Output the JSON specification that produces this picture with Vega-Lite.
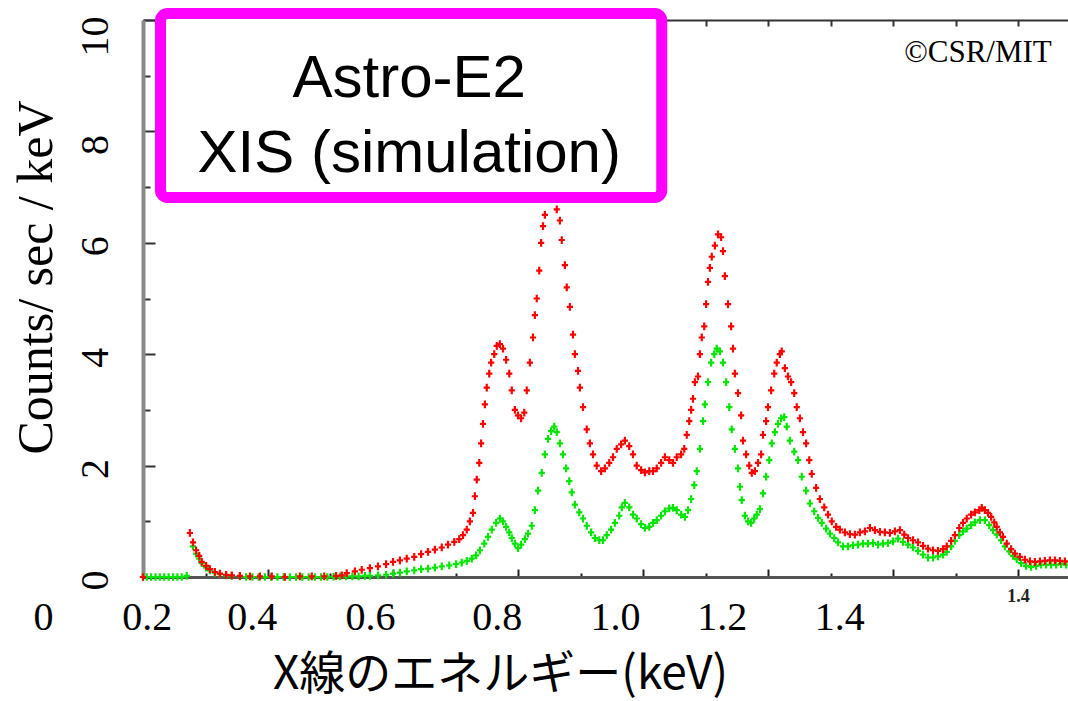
{
  "$schema": "https://vega.github.io/schema/vega-lite/v6.json",
  "width": 925,
  "height": 557,
  "autosize": {"type": "none"},
  "padding": {"left": 143, "top": 20, "right": 0, "bottom": 124},
  "background": "white",
  "config": {"view": {"stroke": null}, "axis": {"grid": false}},
  "datasets": {
    "spectrum": [
      {"s":"2","e":0.000,"c":0},{"s":"2","e":0.006,"c":0},{"s":"2","e":0.013,"c":0},{"s":"2","e":0.020,"c":0},{"s":"2","e":0.027,"c":0},{"s":"2","e":0.034,"c":0},{"s":"2","e":0.041,"c":0},{"s":"2","e":0.048,"c":0},{"s":"2","e":0.055,"c":0},{"s":"2","e":0.062,"c":0},{"s":"2","e":0.070,"c":0.02},
      {"s":"2","e":0.080,"c":0.55},{"s":"2","e":0.085,"c":0.42},{"s":"2","e":0.090,"c":0.33},{"s":"2","e":0.094,"c":0.25},{"s":"2","e":0.101,"c":0.17},{"s":"2","e":0.107,"c":0.12},{"s":"2","e":0.115,"c":0.08},{"s":"2","e":0.123,"c":0.05},{"s":"2","e":0.133,"c":0.03},{"s":"2","e":0.142,"c":0.02},{"s":"2","e":0.155,"c":0.01},
      {"s":"2","e":0.165,"c":0},{"s":"2","e":0.175,"c":0},{"s":"2","e":0.185,"c":0},{"s":"2","e":0.195,"c":0},{"s":"2","e":0.205,"c":0},{"s":"2","e":0.215,"c":0},{"s":"2","e":0.225,"c":0},{"s":"2","e":0.235,"c":0},{"s":"2","e":0.245,"c":0},{"s":"2","e":0.255,"c":0},{"s":"2","e":0.265,"c":0},{"s":"2","e":0.275,"c":0},{"s":"2","e":0.285,"c":0},{"s":"2","e":0.295,"c":0},{"s":"2","e":0.305,"c":0.005},{"s":"2","e":0.315,"c":0.01},{"s":"2","e":0.325,"c":0.01},{"s":"2","e":0.335,"c":0.01},{"s":"2","e":0.345,"c":0.01},{"s":"2","e":0.355,"c":0.02},
      {"s":"2","e":0.363,"c":0.02},{"s":"2","e":0.376,"c":0.03},{"s":"2","e":0.389,"c":0.04},{"s":"2","e":0.400,"c":0.06},{"s":"2","e":0.411,"c":0.08},{"s":"2","e":0.422,"c":0.10},{"s":"2","e":0.434,"c":0.12},{"s":"2","e":0.445,"c":0.14},{"s":"2","e":0.456,"c":0.15},{"s":"2","e":0.467,"c":0.17},{"s":"2","e":0.478,"c":0.19},{"s":"2","e":0.490,"c":0.21},{"s":"2","e":0.501,"c":0.23},{"s":"2","e":0.510,"c":0.26},{"s":"2","e":0.518,"c":0.29},{"s":"2","e":0.526,"c":0.33},{"s":"2","e":0.533,"c":0.39},{"s":"2","e":0.539,"c":0.48},{"s":"2","e":0.546,"c":0.60},{"s":"2","e":0.552,"c":0.72},{"s":"2","e":0.558,"c":0.85},{"s":"2","e":0.565,"c":0.97},{"s":"2","e":0.571,"c":1.05},{"s":"2","e":0.576,"c":1.00},{"s":"2","e":0.581,"c":0.90},{"s":"2","e":0.586,"c":0.80},{"s":"2","e":0.590,"c":0.70},{"s":"2","e":0.595,"c":0.60},{"s":"2","e":0.600,"c":0.52},{"s":"2","e":0.605,"c":0.58},{"s":"2","e":0.611,"c":0.68},{"s":"2","e":0.616,"c":0.78},{"s":"2","e":0.622,"c":0.92},{"s":"2","e":0.627,"c":1.20},{"s":"2","e":0.632,"c":1.55},{"s":"2","e":0.638,"c":1.87},{"s":"2","e":0.643,"c":2.20},{"s":"2","e":0.648,"c":2.48},{"s":"2","e":0.653,"c":2.62},{"s":"2","e":0.658,"c":2.70},{"s":"2","e":0.662,"c":2.60},{"s":"2","e":0.667,"c":2.40},{"s":"2","e":0.672,"c":2.20},{"s":"2","e":0.677,"c":1.95},{"s":"2","e":0.682,"c":1.72},{"s":"2","e":0.686,"c":1.52},{"s":"2","e":0.691,"c":1.30},{"s":"2","e":0.698,"c":1.16},{"s":"2","e":0.704,"c":1.05},{"s":"2","e":0.710,"c":0.92},{"s":"2","e":0.717,"c":0.80},{"s":"2","e":0.723,"c":0.70},{"s":"2","e":0.730,"c":0.66},{"s":"2","e":0.736,"c":0.66},{"s":"2","e":0.742,"c":0.75},{"s":"2","e":0.749,"c":0.85},{"s":"2","e":0.755,"c":0.97},{"s":"2","e":0.762,"c":1.10},{"s":"2","e":0.766,"c":1.25},{"s":"2","e":0.771,"c":1.33},{"s":"2","e":0.778,"c":1.25},{"s":"2","e":0.784,"c":1.12},{"s":"2","e":0.790,"c":1.05},{"s":"2","e":0.797,"c":0.95},{"s":"2","e":0.803,"c":0.88},{"s":"2","e":0.810,"c":0.90},{"s":"2","e":0.816,"c":0.97},{"s":"2","e":0.822,"c":1.02},{"s":"2","e":0.829,"c":1.10},{"s":"2","e":0.835,"c":1.18},{"s":"2","e":0.842,"c":1.23},{"s":"2","e":0.848,"c":1.24},{"s":"2","e":0.854,"c":1.20},{"s":"2","e":0.861,"c":1.12},{"s":"2","e":0.867,"c":1.08},{"s":"2","e":0.872,"c":1.20},{"s":"2","e":0.877,"c":1.40},{"s":"2","e":0.882,"c":1.65},{"s":"2","e":0.886,"c":1.90},{"s":"2","e":0.891,"c":2.30},{"s":"2","e":0.896,"c":2.80},{"s":"2","e":0.899,"c":3.10},{"s":"2","e":0.904,"c":3.50},{"s":"2","e":0.909,"c":3.85},{"s":"2","e":0.914,"c":4.00},{"s":"2","e":0.918,"c":4.10},{"s":"2","e":0.923,"c":4.05},{"s":"2","e":0.928,"c":3.85},{"s":"2","e":0.933,"c":3.50},{"s":"2","e":0.938,"c":3.05},{"s":"2","e":0.942,"c":2.65},{"s":"2","e":0.947,"c":2.30},{"s":"2","e":0.952,"c":1.95},{"s":"2","e":0.955,"c":1.62},{"s":"2","e":0.958,"c":1.38},{"s":"2","e":0.963,"c":1.10},{"s":"2","e":0.968,"c":1.00},{"s":"2","e":0.973,"c":0.97},{"s":"2","e":0.978,"c":1.05},{"s":"2","e":0.982,"c":1.12},{"s":"2","e":0.987,"c":1.22},{"s":"2","e":0.992,"c":1.50},{"s":"2","e":0.997,"c":1.80},{"s":"2","e":1.002,"c":2.10},{"s":"2","e":1.006,"c":2.40},{"s":"2","e":1.011,"c":2.60},{"s":"2","e":1.016,"c":2.75},{"s":"2","e":1.021,"c":2.85},{"s":"2","e":1.026,"c":2.87},{"s":"2","e":1.030,"c":2.70},{"s":"2","e":1.035,"c":2.45},{"s":"2","e":1.042,"c":2.25},{"s":"2","e":1.048,"c":2.10},{"s":"2","e":1.054,"c":1.80},{"s":"2","e":1.061,"c":1.55},{"s":"2","e":1.067,"c":1.32},{"s":"2","e":1.074,"c":1.18},{"s":"2","e":1.080,"c":1.06},{"s":"2","e":1.086,"c":0.97},{"s":"2","e":1.093,"c":0.87},{"s":"2","e":1.099,"c":0.78},{"s":"2","e":1.106,"c":0.70},{"s":"2","e":1.112,"c":0.62},{"s":"2","e":1.120,"c":0.55},{"s":"2","e":1.128,"c":0.55},{"s":"2","e":1.136,"c":0.57},{"s":"2","e":1.144,"c":0.58},{"s":"2","e":1.152,"c":0.60},{"s":"2","e":1.160,"c":0.60},{"s":"2","e":1.168,"c":0.61},{"s":"2","e":1.176,"c":0.58},{"s":"2","e":1.184,"c":0.60},{"s":"2","e":1.192,"c":0.61},{"s":"2","e":1.200,"c":0.64},{"s":"2","e":1.208,"c":0.69},{"s":"2","e":1.216,"c":0.63},{"s":"2","e":1.224,"c":0.58},{"s":"2","e":1.232,"c":0.53},{"s":"2","e":1.240,"c":0.47},{"s":"2","e":1.248,"c":0.40},{"s":"2","e":1.256,"c":0.35},{"s":"2","e":1.264,"c":0.35},{"s":"2","e":1.272,"c":0.37},{"s":"2","e":1.280,"c":0.40},{"s":"2","e":1.286,"c":0.45},{"s":"2","e":1.293,"c":0.55},{"s":"2","e":1.299,"c":0.65},{"s":"2","e":1.306,"c":0.75},{"s":"2","e":1.312,"c":0.82},{"s":"2","e":1.318,"c":0.87},{"s":"2","e":1.325,"c":0.93},{"s":"2","e":1.331,"c":0.98},{"s":"2","e":1.339,"c":1.02},{"s":"2","e":1.347,"c":1.02},{"s":"2","e":1.354,"c":0.93},{"s":"2","e":1.360,"c":0.84},{"s":"2","e":1.366,"c":0.76},{"s":"2","e":1.373,"c":0.66},{"s":"2","e":1.379,"c":0.55},{"s":"2","e":1.386,"c":0.46},{"s":"2","e":1.392,"c":0.38},{"s":"2","e":1.398,"c":0.32},{"s":"2","e":1.405,"c":0.25},{"s":"2","e":1.413,"c":0.20},{"s":"2","e":1.421,"c":0.18},{"s":"2","e":1.429,"c":0.20},{"s":"2","e":1.437,"c":0.22},{"s":"2","e":1.445,"c":0.22},{"s":"2","e":1.453,"c":0.22},{"s":"2","e":1.461,"c":0.22},{"s":"2","e":1.469,"c":0.23},{"s":"2","e":1.477,"c":0.22},
      {"s":"1","e":0.000,"c":0},{"s":"1","e":0.075,"c":0.79},{"s":"1","e":0.080,"c":0.62},{"s":"1","e":0.085,"c":0.48},{"s":"1","e":0.090,"c":0.38},{"s":"1","e":0.094,"c":0.27},{"s":"1","e":0.101,"c":0.20},{"s":"1","e":0.107,"c":0.14},{"s":"1","e":0.115,"c":0.09},{"s":"1","e":0.123,"c":0.06},{"s":"1","e":0.133,"c":0.04},{"s":"1","e":0.142,"c":0.03},{"s":"1","e":0.155,"c":0.02},{"s":"1","e":0.171,"c":0.01},{"s":"1","e":0.187,"c":0.01},{"s":"1","e":0.206,"c":0.01},{"s":"1","e":0.227,"c":0.00},{"s":"1","e":0.251,"c":0.01},{"s":"1","e":0.270,"c":0.01},{"s":"1","e":0.290,"c":0.01},{"s":"1","e":0.309,"c":0.02},{"s":"1","e":0.318,"c":0.03},{"s":"1","e":0.326,"c":0.07},{"s":"1","e":0.339,"c":0.10},{"s":"1","e":0.350,"c":0.13},{"s":"1","e":0.363,"c":0.16},{"s":"1","e":0.376,"c":0.19},{"s":"1","e":0.389,"c":0.23},{"s":"1","e":0.400,"c":0.27},{"s":"1","e":0.411,"c":0.30},{"s":"1","e":0.422,"c":0.33},{"s":"1","e":0.434,"c":0.36},{"s":"1","e":0.445,"c":0.41},{"s":"1","e":0.456,"c":0.45},{"s":"1","e":0.467,"c":0.49},{"s":"1","e":0.478,"c":0.53},{"s":"1","e":0.488,"c":0.58},{"s":"1","e":0.498,"c":0.63},{"s":"1","e":0.506,"c":0.68},{"s":"1","e":0.512,"c":0.75},{"s":"1","e":0.518,"c":0.85},{"s":"1","e":0.523,"c":1.00},{"s":"1","e":0.528,"c":1.15},{"s":"1","e":0.531,"c":1.45},{"s":"1","e":0.534,"c":1.75},{"s":"1","e":0.538,"c":2.05},{"s":"1","e":0.541,"c":2.40},{"s":"1","e":0.544,"c":2.75},{"s":"1","e":0.547,"c":3.10},{"s":"1","e":0.550,"c":3.40},{"s":"1","e":0.554,"c":3.65},{"s":"1","e":0.557,"c":3.85},{"s":"1","e":0.562,"c":4.00},{"s":"1","e":0.566,"c":4.15},{"s":"1","e":0.571,"c":4.18},{"s":"1","e":0.576,"c":4.10},{"s":"1","e":0.581,"c":3.90},{"s":"1","e":0.586,"c":3.65},{"s":"1","e":0.590,"c":3.35},{"s":"1","e":0.595,"c":3.00},{"s":"1","e":0.600,"c":2.90},{"s":"1","e":0.605,"c":2.85},{"s":"1","e":0.610,"c":2.95},{"s":"1","e":0.614,"c":3.35},{"s":"1","e":0.619,"c":3.85},{"s":"1","e":0.624,"c":4.30},{"s":"1","e":0.627,"c":4.70},{"s":"1","e":0.630,"c":5.00},{"s":"1","e":0.634,"c":5.50},{"s":"1","e":0.637,"c":6.00},{"s":"1","e":0.640,"c":6.30},{"s":"1","e":0.643,"c":6.50},{"s":"1","e":0.648,"c":6.80},{"s":"1","e":0.653,"c":7.00},{"s":"1","e":0.658,"c":6.90},{"s":"1","e":0.662,"c":6.60},{"s":"1","e":0.667,"c":6.40},{"s":"1","e":0.670,"c":6.05},{"s":"1","e":0.675,"c":5.60},{"s":"1","e":0.678,"c":5.20},{"s":"1","e":0.683,"c":4.85},{"s":"1","e":0.688,"c":4.35},{"s":"1","e":0.691,"c":4.00},{"s":"1","e":0.696,"c":3.70},{"s":"1","e":0.699,"c":3.40},{"s":"1","e":0.704,"c":3.05},{"s":"1","e":0.710,"c":2.65},{"s":"1","e":0.715,"c":2.40},{"s":"1","e":0.720,"c":2.20},{"s":"1","e":0.726,"c":2.00},{"s":"1","e":0.733,"c":1.90},{"s":"1","e":0.739,"c":1.95},{"s":"1","e":0.746,"c":2.05},{"s":"1","e":0.752,"c":2.15},{"s":"1","e":0.758,"c":2.30},{"s":"1","e":0.765,"c":2.38},{"s":"1","e":0.771,"c":2.45},{"s":"1","e":0.778,"c":2.35},{"s":"1","e":0.784,"c":2.20},{"s":"1","e":0.790,"c":2.00},{"s":"1","e":0.797,"c":1.92},{"s":"1","e":0.803,"c":1.88},{"s":"1","e":0.810,"c":1.90},{"s":"1","e":0.816,"c":1.90},{"s":"1","e":0.822,"c":1.95},{"s":"1","e":0.829,"c":2.05},{"s":"1","e":0.835,"c":2.15},{"s":"1","e":0.842,"c":2.10},{"s":"1","e":0.848,"c":2.05},{"s":"1","e":0.854,"c":2.15},{"s":"1","e":0.861,"c":2.20},{"s":"1","e":0.866,"c":2.30},{"s":"1","e":0.870,"c":2.55},{"s":"1","e":0.874,"c":2.80},{"s":"1","e":0.877,"c":3.00},{"s":"1","e":0.880,"c":3.20},{"s":"1","e":0.883,"c":3.50},{"s":"1","e":0.888,"c":3.60},{"s":"1","e":0.891,"c":4.00},{"s":"1","e":0.894,"c":4.30},{"s":"1","e":0.898,"c":4.50},{"s":"1","e":0.901,"c":4.90},{"s":"1","e":0.904,"c":5.30},{"s":"1","e":0.907,"c":5.55},{"s":"1","e":0.910,"c":5.75},{"s":"1","e":0.915,"c":5.95},{"s":"1","e":0.920,"c":6.15},{"s":"1","e":0.925,"c":6.10},{"s":"1","e":0.928,"c":5.85},{"s":"1","e":0.931,"c":5.40},{"s":"1","e":0.936,"c":4.90},{"s":"1","e":0.941,"c":4.50},{"s":"1","e":0.944,"c":4.10},{"s":"1","e":0.947,"c":3.65},{"s":"1","e":0.952,"c":3.30},{"s":"1","e":0.957,"c":2.90},{"s":"1","e":0.960,"c":2.45},{"s":"1","e":0.965,"c":2.20},{"s":"1","e":0.970,"c":2.00},{"s":"1","e":0.974,"c":1.87},{"s":"1","e":0.979,"c":1.90},{"s":"1","e":0.984,"c":2.05},{"s":"1","e":0.989,"c":2.20},{"s":"1","e":0.992,"c":2.55},{"s":"1","e":0.997,"c":2.80},{"s":"1","e":1.000,"c":3.05},{"s":"1","e":1.005,"c":3.35},{"s":"1","e":1.010,"c":3.65},{"s":"1","e":1.014,"c":3.85},{"s":"1","e":1.019,"c":4.00},{"s":"1","e":1.022,"c":4.05},{"s":"1","e":1.027,"c":3.75},{"s":"1","e":1.032,"c":3.60},{"s":"1","e":1.037,"c":3.50},{"s":"1","e":1.042,"c":3.30},{"s":"1","e":1.046,"c":3.05},{"s":"1","e":1.051,"c":2.85},{"s":"1","e":1.056,"c":2.60},{"s":"1","e":1.061,"c":2.40},{"s":"1","e":1.066,"c":2.10},{"s":"1","e":1.070,"c":1.85},{"s":"1","e":1.077,"c":1.60},{"s":"1","e":1.083,"c":1.40},{"s":"1","e":1.090,"c":1.25},{"s":"1","e":1.096,"c":1.12},{"s":"1","e":1.102,"c":1.00},{"s":"1","e":1.109,"c":0.90},{"s":"1","e":1.115,"c":0.85},{"s":"1","e":1.123,"c":0.80},{"s":"1","e":1.131,"c":0.77},{"s":"1","e":1.139,"c":0.76},{"s":"1","e":1.147,"c":0.80},{"s":"1","e":1.155,"c":0.82},{"s":"1","e":1.163,"c":0.88},{"s":"1","e":1.171,"c":0.84},{"s":"1","e":1.179,"c":0.81},{"s":"1","e":1.187,"c":0.80},{"s":"1","e":1.195,"c":0.79},{"s":"1","e":1.203,"c":0.82},{"s":"1","e":1.211,"c":0.84},{"s":"1","e":1.218,"c":0.76},{"s":"1","e":1.224,"c":0.70},{"s":"1","e":1.232,"c":0.66},{"s":"1","e":1.240,"c":0.62},{"s":"1","e":1.248,"c":0.56},{"s":"1","e":1.256,"c":0.51},{"s":"1","e":1.264,"c":0.48},{"s":"1","e":1.272,"c":0.47},{"s":"1","e":1.280,"c":0.50},{"s":"1","e":1.286,"c":0.55},{"s":"1","e":1.293,"c":0.65},{"s":"1","e":1.299,"c":0.75},{"s":"1","e":1.306,"c":0.88},{"s":"1","e":1.312,"c":0.97},{"s":"1","e":1.318,"c":1.05},{"s":"1","e":1.325,"c":1.12},{"s":"1","e":1.331,"c":1.16},{"s":"1","e":1.338,"c":1.20},{"s":"1","e":1.342,"c":1.24},{"s":"1","e":1.347,"c":1.20},{"s":"1","e":1.352,"c":1.15},{"s":"1","e":1.357,"c":1.08},{"s":"1","e":1.362,"c":0.98},{"s":"1","e":1.366,"c":0.90},{"s":"1","e":1.371,"c":0.80},{"s":"1","e":1.376,"c":0.72},{"s":"1","e":1.382,"c":0.60},{"s":"1","e":1.389,"c":0.50},{"s":"1","e":1.395,"c":0.42},{"s":"1","e":1.403,"c":0.36},{"s":"1","e":1.411,"c":0.31},{"s":"1","e":1.419,"c":0.28},{"s":"1","e":1.427,"c":0.27},{"s":"1","e":1.435,"c":0.28},{"s":"1","e":1.443,"c":0.29},{"s":"1","e":1.451,"c":0.30},{"s":"1","e":1.459,"c":0.30},{"s":"1","e":1.467,"c":0.29},{"s":"1","e":1.475,"c":0.28}
    ]
  },
  "resolve": {"axis": {"x": "independent", "y": "independent"}},
  "layer": [
    {
      "data": {"name": "spectrum"},
      "mark": {"type": "point", "shape": "M0,-1V1M-0.8,0H0.8", "filled": false, "strokeWidth": 2.2, "size": 60, "opacity": 1},
      "encoding": {
        "x": {"field": "e", "type": "quantitative", "scale": {"domain": [0, 1.48], "nice": false, "zero": false},
          "axis": {"orient": "bottom", "values": [0.1,0.2,0.3,0.4,0.5,0.6,0.7,0.8,0.9,1.0,1.1,1.2,1.3,1.4],
            "domainColor": "#555555", "domainWidth": 3, "tickColor": "#222222", "tickWidth": 2,
            "tickSize": {"condition": {"test": "round(datum.value*10) % 2 == 0", "value": -8}, "value": -4},
            "labelExpr": "datum.value == 1.4 ? '1.4' : ''", "labelFont": "Liberation Serif", "labelFontWeight": "bold",
            "labelFontSize": 18, "labelColor": "#222222", "labelPadding": 27, "labelBaseline": "middle",
            "labelFlush": false, "labelOverlap": false, "title": null}},
        "y": {"field": "c", "type": "quantitative", "scale": {"domain": [0, 10], "nice": false, "zero": false},
          "axis": {"orient": "left", "values": [0,1,2,3,4,5,6,7,8,9,10],
            "domainColor": "#8a8a8a", "domainWidth": 4, "tickColor": "#333333", "tickWidth": 2,
            "tickSize": {"condition": {"test": "datum.value % 2 == 0", "value": -12}, "value": -7},
            "labelExpr": "datum.value % 2 == 0 ? datum.label : ''", "labelAngle": -90, "labelAlign": "center",
            "labelBaseline": "alphabetic", "labelFont": "Liberation Serif", "labelFontSize": 40, "labelColor": "black",
            "labelPadding": 48,
            "labelOffset": {"condition": [{"test": "datum.value == 10", "value": 16}, {"test": "datum.value == 8", "value": 13}], "value": 3},
            "labelOverlap": false, "labelFlush": false,
            "title": "Counts/ sec / keV", "titleFont": "Liberation Serif", "titleFontSize": 50, "titleFontWeight": "normal",
            "titleColor": "black", "titleAngle": -90, "titleX": -92, "titleY": 257, "titleAlign": "center", "titleBaseline": "alphabetic"}},
        "color": {"field": "s", "type": "nominal", "scale": {"domain": ["1", "2"], "range": ["#ff0000", "#00e600"]}, "legend": null}
      }
    },
    {
      "data": {"values": [{"e": 0.028, "e2": 0.830, "c": 10.117, "c2": 6.813}]},
      "mark": {"type": "rect", "fill": "white", "stroke": "#ff00ff", "strokeWidth": 11, "cornerRadius": 7},
      "encoding": {
        "x": {"field": "e", "type": "quantitative", "scale": {"domain": [0, 1.48], "nice": false, "zero": false},
          "axis": {"orient": "bottom", "values": [0, 0.006, 0.174, 0.363, 0.566, 0.755, 0.926, 1.114],
            "labelExpr": "['0','0.2','0.4','0.6','0.8','1.0','1.2','1.4'][indexof([0,0.006,0.174,0.363,0.566,0.755,0.926,1.114], datum.value)]",
            "labelOffset": {"condition": {"test": "datum.value == 0", "value": -100}, "value": 0},
            "domain": false, "ticks": false, "tickSize": 0,
            "labelFont": "Liberation Serif", "labelFontSize": 40, "labelColor": "black", "labelBaseline": "alphabetic",
            "labelPadding": 52, "labelFlush": false, "labelOverlap": false, "labelBound": false,
            "title": "X線のエネルギー(keV)", "titleFont": "Noto Sans CJK JP", "titleFontSize": 46, "titleFontWeight": "normal",
            "titleColor": "black", "titleX": 357, "titleY": 111, "titleAlign": "center", "titleBaseline": "alphabetic", "titleAngle": 0}},
        "x2": {"field": "e2"},
        "y": {"field": "c", "type": "quantitative", "scale": {"domain": [0, 10], "nice": false, "zero": false}, "axis": null},
        "y2": {"field": "c2"}
      }
    },
    {
      "data": {"values": [{"e": 0.426, "c": 8.62, "t": "Astro-E2"}, {"e": 0.426, "c": 7.27, "t": "XIS (simulation)"}]},
      "mark": {"type": "text", "font": "Liberation Sans", "fontSize": 60, "align": "center", "baseline": "alphabetic", "color": "black"},
      "encoding": {
        "x": {"field": "e", "type": "quantitative", "scale": {"domain": [0, 1.48], "nice": false, "zero": false}, "axis": null},
        "y": {"field": "c", "type": "quantitative", "scale": {"domain": [0, 10], "nice": false, "zero": false}, "axis": null},
        "text": {"field": "t"}
      }
    },
    {
      "data": {"values": [{"e": 1.336, "c": 9.246, "t": "©CSR/MIT"}]},
      "mark": {"type": "text", "font": "Liberation Serif", "fontSize": 31, "align": "center", "baseline": "alphabetic", "color": "black"},
      "encoding": {
        "x": {"field": "e", "type": "quantitative", "scale": {"domain": [0, 1.48], "nice": false, "zero": false},
          "axis": {"orient": "top", "values": [0.1,0.2,0.3,0.4,0.5,0.6,0.7,0.8,0.9,1.0,1.1,1.2,1.3,1.4],
            "domainColor": "#333333", "domainWidth": 2, "tickColor": "#333333", "tickWidth": 2, "tickSize": -6,
            "labels": false, "title": null}},
        "y": {"field": "c", "type": "quantitative", "scale": {"domain": [0, 10], "nice": false, "zero": false}, "axis": null},
        "text": {"field": "t"}
      }
    }
  ]
}
